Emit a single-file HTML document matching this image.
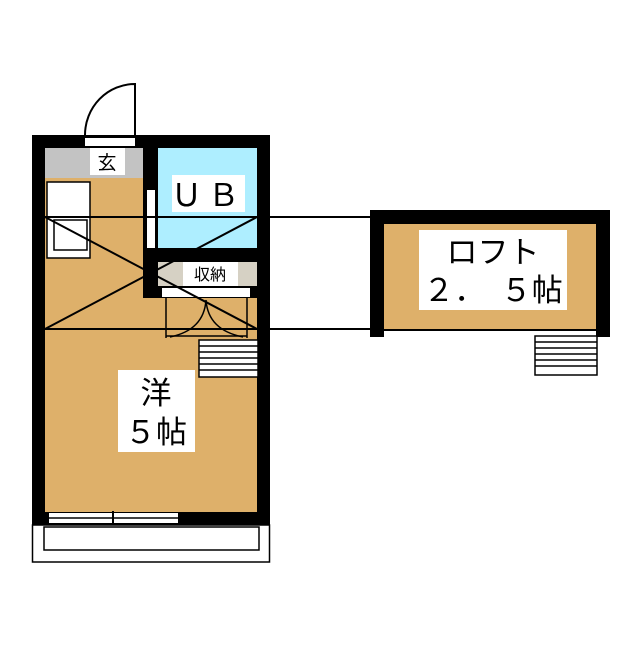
<!DOCTYPE html><html><head><meta charset="utf-8"><style>
body{margin:0;background:#fff}
svg text{font-family:"Liberation Sans","Noto Sans CJK JP",sans-serif;fill:#000}
</style></head><body>
<svg width="640" height="640" viewBox="0 0 640 640" xmlns="http://www.w3.org/2000/svg">
<rect width="640" height="640" fill="#fff"/>
<rect x="32" y="135" width="238" height="390" fill="#000"/>
<rect x="45" y="148" width="212" height="364" fill="#deb06a"/>
<rect x="45" y="148" width="98" height="30" fill="#c3c3c3"/>
<rect x="90" y="148" width="35" height="27" fill="#fff"/>
<text x="107" y="169" font-size="19" text-anchor="middle">玄</text>
<rect x="85" y="138" width="50" height="8" fill="#fff"/>
<path d="M135 135 V84 A50 51 0 0 0 85 135" fill="none" stroke="#000" stroke-width="2"/>
<rect x="47" y="182" width="43" height="76" fill="#fff" stroke="#000" stroke-width="1.5"/>
<rect x="54" y="220" width="33" height="30" fill="#fff" stroke="#000" stroke-width="1.5"/>
<rect x="143" y="148" width="15" height="150" fill="#000"/>
<rect x="147" y="190" width="8" height="60" fill="#fff"/>
<rect x="158" y="148" width="99" height="100" fill="#aeeeff"/>
<rect x="172" y="175" width="73" height="37" fill="#fff"/>
<text x="208" y="206" font-size="31" text-anchor="middle" letter-spacing="6">ＵＢ</text>
<rect x="143" y="248" width="127" height="14" fill="#000"/>
<rect x="158" y="262" width="99" height="24" fill="#d6d1c4"/>
<rect x="183" y="262" width="55" height="24" fill="#fff"/>
<text x="210" y="280" font-size="16" text-anchor="middle">収納</text>
<rect x="143" y="286" width="127" height="12" fill="#000"/>
<rect x="162" y="288" width="88" height="9" fill="#fff"/>
<path d="M166 298 V338 M247 298 V338 M166 336 H247" fill="none" stroke="#000" stroke-width="1.5"/>
<path d="M170 337 Q204 330 206 300 Q208 330 243 337" fill="none" stroke="#000" stroke-width="1.5"/>
<rect x="199" y="340" width="59" height="37" fill="#fff" stroke="#000" stroke-width="1.5"/>
<path d="M199 346 H258 M199 352 H258 M199 358 H258 M199 364 H258 M199 370 H258" stroke="#000" stroke-width="1.5"/>
<rect x="118" y="370" width="77" height="82" fill="#fff"/>
<text x="156" y="404" font-size="31" text-anchor="middle">洋</text>
<text x="156" y="443" font-size="31" text-anchor="middle">５帖</text>
<rect x="49" y="513" width="129" height="10" fill="#fff"/>
<path d="M49 518 H178" stroke="#000" stroke-width="1.5"/>
<path d="M113 511 V527" stroke="#000" stroke-width="2"/>
<rect x="32.5" y="525" width="237" height="37" fill="#fff" stroke="#000" stroke-width="1.5"/>
<rect x="44" y="527" width="215" height="23" fill="#fff" stroke="#000" stroke-width="1.5"/>
<rect x="370" y="210" width="240" height="127" fill="#000"/>
<rect x="384" y="224" width="212" height="105" fill="#deb06a"/>
<rect x="384" y="331" width="212" height="6" fill="#fff"/>
<rect x="419" y="230" width="148" height="80" fill="#fff"/>
<text x="493" y="263" font-size="31" text-anchor="middle">ロフト</text>
<text x="493" y="301" font-size="31" text-anchor="middle">２．　５帖</text>
<rect x="535" y="336" width="62" height="39" fill="#fff" stroke="#000" stroke-width="1.5"/>
<path d="M535 342 H597 M535 348 H597 M535 354 H597 M535 360 H597 M535 366 H597" stroke="#000" stroke-width="1.5"/>
<path d="M45 217 H370 M45 329 H370 M45 217 L257 329 M45 329 L257 217" stroke="#000" stroke-width="2" fill="none"/>
</svg>
</body></html>
